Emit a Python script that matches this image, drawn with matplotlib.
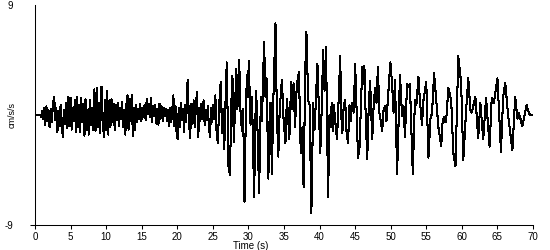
import numpy as np
import matplotlib.pyplot as plt

plt.rcParams['font.family'] = ['Liberation Sans', 'DejaVu Sans']
plt.rcParams['axes.unicode_minus'] = False

# turning points of the acceleration trace (s, cm/s/s)
t_p1 = [0, 0.8, 0.9, 1.0, 1.15, 1.3, 1.45, 1.6, 1.75, 1.9,
        2.05, 2.2, 2.35, 2.55, 2.7, 2.85, 3.0, 3.15, 3.3, 3.45,
        3.6, 3.75, 3.9, 4.05, 4.2, 4.35, 4.5, 4.7, 4.85, 5.0,
        5.15, 5.3, 5.45, 5.6, 5.75, 5.9, 6.05, 6.2, 6.35, 6.5,
        6.65, 6.8, 6.95, 7.1, 7.25, 7.4, 7.55, 7.7, 7.85, 8.0,
        8.15, 8.35, 8.5, 8.7, 8.85, 9.0, 9.15, 9.35, 9.55, 9.7,
        9.85, 10.0]
a_p1 = [0, 0, -0.2, 0.3, -0.3, 0.6, -0.8, 0.7, -0.5, 0.4,
        -1.0, 0.5, -0.6, 1.0, 1.5, -0.4, 0.6, -1.4, 0.3, -0.9,
        0.8, -0.5, -1.8, 0.4, -0.7, 1.0, -1.1, 1.5, -0.9, 1.4,
        -1.2, 0.6, -0.5, 1.2, -1.4, 1.5, -1.0, 0.8, -1.4, 1.4,
        -0.6, 0.9, -1.7, 1.3, -1.2, 0.4, -1.6, 1.2, -0.8, 0.6,
        -1.2, 2.1, -1.3, 2.2, -1.0, 1.0, -1.5, 2.3, -0.8, -1.8,
        1.2, -1.2]

t_p2 = [10.15, 10.3, 10.45, 10.6, 10.75, 10.9, 11.05, 11.2, 11.35, 11.5,
        11.65, 11.8, 11.95, 12.1, 12.25, 12.4, 12.55, 12.7, 12.85, 13.0,
        13.15, 13.3, 13.45, 13.6, 13.75, 13.9, 14.05, 14.2, 14.35, 14.5,
        14.65, 14.8, 14.95, 15.1, 15.25, 15.4, 15.55, 15.7, 15.85, 16.0,
        16.15, 16.3, 16.45, 16.6, 16.75, 16.9, 17.05, 17.2, 17.35, 17.5,
        17.65, 17.8, 17.95, 18.1, 18.25, 18.4, 18.55, 18.7, 18.85, 19.0,
        19.15, 19.3, 19.45, 19.6, 19.75, 19.9, 20.05]
a_p2 = [2.0, -1.6, 1.2, -1.0, 1.3, -0.6, 0.9, -1.2, 0.8, -0.4,
        1.0, -0.9, 0.6, -0.3, 1.1, -1.0, 0.4, -1.6, 0.9, 1.6,
        -1.2, 1.3, -0.5, 1.6, -1.7, 0.6, -1.2, 0.8, -0.6, 0.5,
        -0.3, 0.9, -0.5, 0.6, -0.2, 0.8, -0.4, 1.3, 0.1, 0.9,
        -0.2, 1.4, -0.6, 0.7, -0.1, 0.8, -0.7, 0.5, -0.8, 0.9,
        -0.3, 0.7, -0.5, 0.6, -0.1, 0.5, -0.5, 0.4, -0.9, 0.6,
        -0.6, 0.5, 1.6, -0.9, 0.7, -1.5, -2.0]

t_s1 = [20.2, 20.35, 20.5, 20.65, 20.8, 20.95, 21.1, 21.25, 21.45, 21.65,
        21.8, 22.0, 22.15, 22.3, 22.45, 22.6, 22.75, 22.95, 23.1, 23.25,
        23.4, 23.55, 23.7, 23.85, 24.0, 24.15, 24.3, 24.45, 24.6, 24.75,
        24.9, 25.05, 25.2, 25.35, 25.5, 25.7, 25.9, 26.1, 26.3, 26.45,
        26.6, 26.8, 26.95, 27.2, 27.4, 27.6, 27.75, 27.95, 28.15, 28.3,
        28.45, 28.7, 28.9, 29.1, 29.25, 29.45, 29.65, 29.8, 29.9, 30.05]
a_s1 = [0.6, -1.0, 1.0, -0.4, 0.5, -1.4, 0.8, -0.6, 2.9, -0.5,
        -1.9, 0.9, -0.7, 1.2, -1.0, 0.5, 1.9, -1.8, 0.6, -0.5,
        0.9, -0.3, 1.2, -0.8, 0.4, -0.4, 0.7, -1.0, -1.8, 0.6,
        -0.6, 0.8, -0.3, 1.6, -1.2, -2.3, 0.9, 2.7, -1.5, 0.5,
        -2.8, 1.5, 4.3, -4.2, -4.9, 1.0, 3.2, -2.2, 1.2, 3.8,
        0.5, 4.5, 0.0, -1.3, 0.5, -7.1, 0.8, 3.3, 1.5, 4.4]

t_s2 = [30.3, 30.5, 30.8, 31.05, 31.2, 31.5, 31.75, 31.9, 32.2, 32.4,
        32.55, 32.8, 33.0, 33.1, 33.3, 33.5, 33.8, 34.0, 34.2, 34.4,
        34.7, 34.95, 35.2, 35.4, 35.55, 35.75, 36.0, 36.15, 36.35, 36.55,
        36.8, 37.1, 37.35, 37.6, 37.75, 38.0, 38.15, 38.4, 38.6, 38.85,
        39.1, 39.3, 39.7]
a_s2 = [-0.8, 1.5, -6.7, 2.0, 0.5, -6.4, 1.5, -0.5, 6.0, 1.5,
        3.0, -5.2, 0.5, 1.0, -4.8, 1.2, 7.5, 0.0, -3.4, 0.5,
        2.9, -0.5, -2.3, 1.3, 0.2, -2.0, 2.7, 0.5, 2.6, -1.0,
        2.5, 3.5, -3.1, -1.0, -5.9, 3.9, 6.8, 1.2, 0.8, -8.0,
        1.0, -1.2, 4.2]

t_s3 = [40.1, 40.3, 40.5, 40.7, 40.9, 41.2, 41.4, 41.55, 41.7, 41.85,
        42.0, 42.2, 42.45, 42.7, 42.9, 43.05, 43.2, 43.4, 43.6, 43.8,
        44.0, 44.2, 44.35, 44.6, 44.8, 45.0, 45.2, 45.4, 45.6, 45.8,
        46.0, 46.15, 46.3, 46.5, 46.7, 46.9, 47.1, 47.25, 47.4, 47.6,
        47.8, 48.0, 48.2, 48.4, 48.6, 48.8, 49.0, 49.2, 49.4, 49.6,
        49.95]
a_s3 = [-3.1, 0.5, 5.3, 2.0, 5.6, -6.7, 0.0, -1.0, 1.0, -1.3,
        0.8, -0.5, -2.0, 1.5, 4.8, 0.0, -1.5, 0.8, 1.2, -1.5,
        -2.3, 0.8, -0.5, 1.0, 0.2, 4.2, 0.5, -3.5, -2.8, 0.5,
        3.9, 2.5, 4.0, -0.5, -3.6, 0.5, 2.8, 0.5, -2.0, 0.8,
        2.2, 1.0, 3.9, 0.2, -0.5, -1.3, 0.5, 0.7, -0.5, 1.2,
        4.3]

t_c = [50.2, 50.4, 50.6, 50.9, 51.3, 51.6, 51.8, 52.0, 52.3, 52.5,
       52.7, 53.1, 53.4, 53.6, 53.9, 54.1, 54.4, 54.6, 55.0, 55.3,
       55.6, 55.8, 56.1, 56.4, 56.7, 57.1, 57.3, 57.5, 57.7, 57.85,
       58.1, 58.5, 58.8, 59.1, 59.5, 59.9, 60.2, 60.6, 60.9, 61.2,
       61.4, 61.9, 62.3, 62.6, 63.0, 63.4, 63.9, 64.2, 64.5, 65.0,
       65.5, 65.8, 66.1, 66.5, 67.1, 67.5, 67.8, 68.0, 68.5, 69.1,
       69.4, 69.6, 70.0]
a_c = [2.5, 0.2, 2.9, -4.8, 3.3, -0.1, 0.7, -1.8, 2.5, 2.3,
       2.5, -4.8, 1.2, 0.8, 3.1, 1.2, -0.8, 1.2, 2.7, -3.5,
       -0.2, 0.1, 3.4, 1.2, -1.0, -2.5, -0.5, -0.2, -0.6, 0.0,
       2.2, 1.2, -3.1, -4.2, 4.8, 2.6, -3.7, 0.4, 3.0, 0.4,
       0.2, 1.5, -1.9, 1.0, -2.0, 1.4, -2.6, 1.4, 1.0, 3.0,
       -3.0, 1.5, 2.6, 0.0, -2.9, 1.5, -0.3, 0.2, -0.9, 0.8,
       0.2, 0.0, 0.0]

x_ticks = list(range(0, 71, 5))
y_ticks = [-9, 9]

T = np.array(t_p1 + t_p2 + t_s1 + t_s2 + t_s3 + t_c)
A = np.array(a_p1 + a_p2 + a_s1 + a_s2 + a_s3 + a_c)
assert len(T) == len(A)

fig = plt.figure(figsize=(5.5, 2.5), dpi=100)
ax = fig.add_axes([35/550, 25/250, 498/550, 220/250])

ax.plot(T, A, color='black', lw=0.75, antialiased=False)

ax.set_xlim(0, 70)
ax.set_ylim(-9, 9)
ax.spines['top'].set_visible(False)
ax.spines['right'].set_visible(False)
for s in ['left', 'bottom']:
    ax.spines[s].set_linewidth(0.75)

ax.set_xticks(x_ticks)
ax.set_yticks(y_ticks)
ax.tick_params(axis='x', length=3, width=0.75, pad=2, labelsize=7)
ax.tick_params(axis='y', length=3.6, width=0.75, pad=12, labelsize=7)
ax.yaxis.get_major_ticks()[1].tick1line.set_visible(False)

fig.text(12/550, 1 - 115/250, 'cm/s/s', rotation=90, ha='center', va='center', fontsize=6.5)
fig.text(251/550, 1 - 246/250, 'Time (s)', ha='center', va='center', fontsize=7)

fig.savefig('out.png', dpi=100)
